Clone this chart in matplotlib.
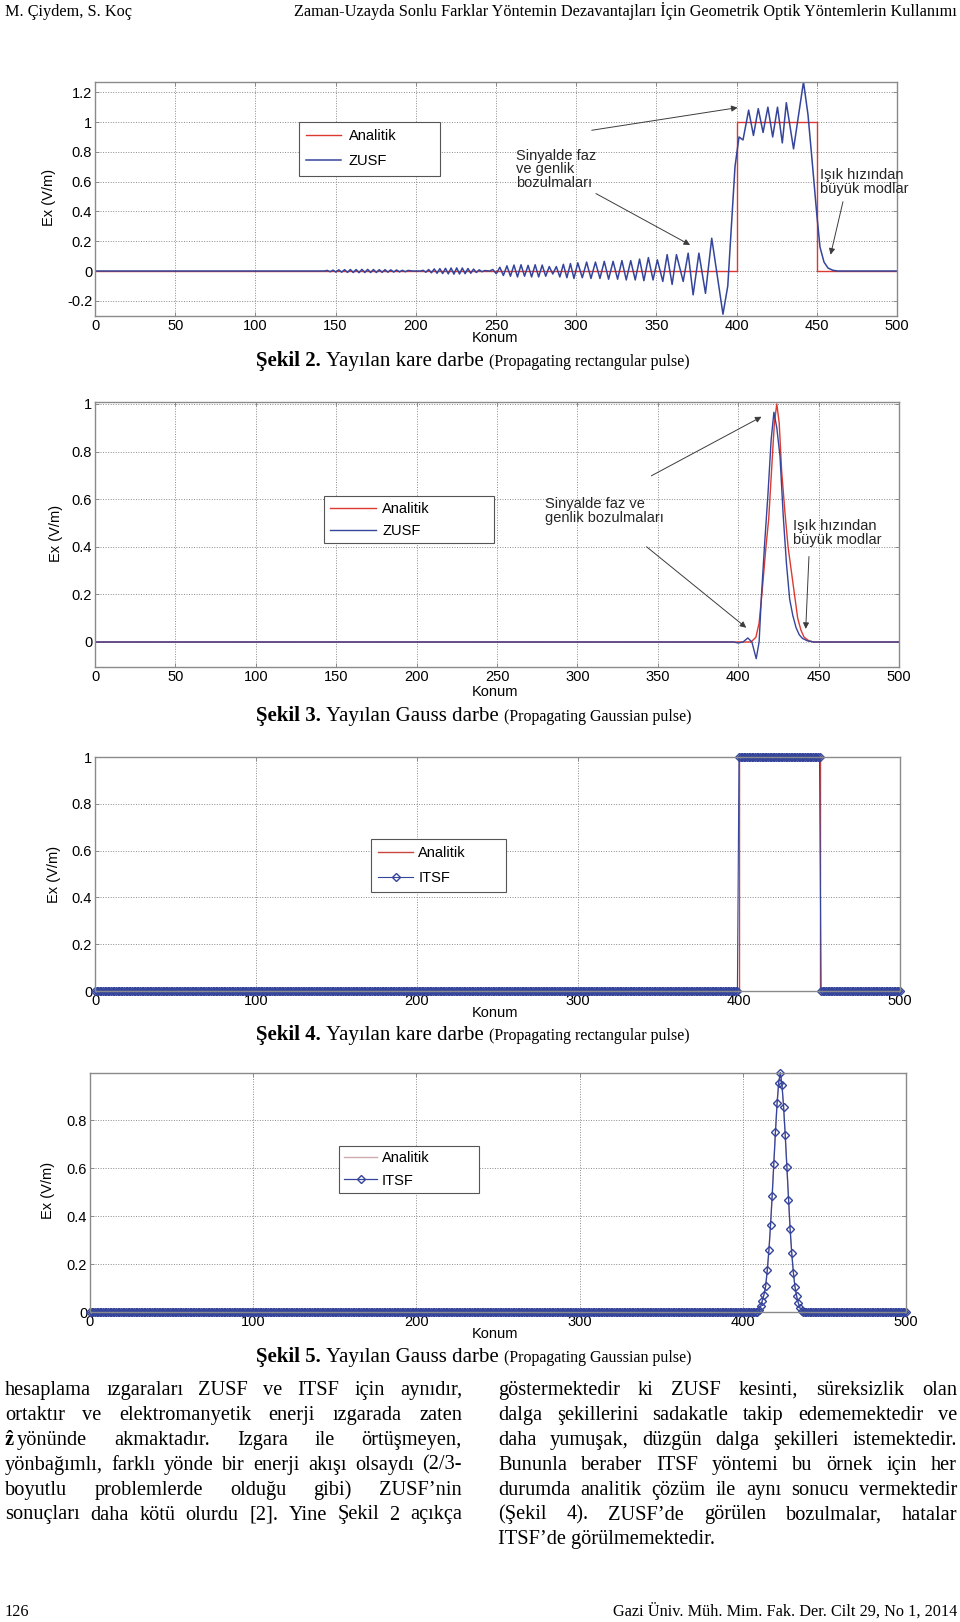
import numpy as np
import matplotlib
matplotlib.use('Agg')
import matplotlib.pyplot as plt
from matplotlib.ticker import FuncFormatter

# page size in pixels
W, H = 960, 1622
SANS = ['Liberation Sans', 'DejaVu Sans']
SERIF = ['Liberation Serif', 'DejaVu Serif']
plt.rcParams['font.family'] = SANS

BLUE = '#34459b'
RED = '#dc3a30'

# ---------------------------------------------------------------
# Data
# ---------------------------------------------------------------

rect_x = [0, 400, 400, 450, 450, 500]
rect_y = [0, 0, 1, 1, 0, 0]

zusf_rect_x = [
    0, 143.0,
    144.8, 146.6, 148.4, 150.2, 152.0, 153.8, 155.6, 157.4, 159.2, 161.0,
    162.8, 164.6, 166.4, 168.2, 170.0, 171.8, 173.6, 175.4, 177.2, 179.0,
    180.8, 182.6, 184.4, 186.2, 188.0, 189.8, 191.6, 193.4, 195.2, 198.0, 203.0,
    204.5, 206.25, 208.0, 209.75, 211.5, 213.25, 215.0, 216.75, 218.5, 220.25,
    222.0, 223.75, 225.5, 227.25, 229.0, 230.75, 232.5, 234.25, 236.0, 237.75,
    239.5, 241.25, 243.0, 246.0,
    248.0, 250.2, 252.4, 254.6, 256.8, 259.0, 261.2, 263.4, 265.6, 267.8,
    270.0, 272.2, 274.4, 276.6, 278.8, 281.0, 283.2, 285.4, 287.6, 289.8,
    292.0, 294.2, 296.4, 298.6,
    301.0, 303.8, 306.5, 309.2, 312.0, 314.8, 317.5, 320.2, 323.0, 325.8,
    328.5, 331.2, 334.0, 336.8, 339.5, 342.2, 345.0, 347.9, 350.6,
    354.0, 356.7, 359.8, 362.5, 366.7, 369.8, 372.9, 376.5, 380.6, 384.5, 391.5,
    394.5, 397.0, 399.0, 401.5, 404.0, 407.5, 410.5, 413.5, 416.5, 419.5,
    422.5, 425.5, 428.5, 431.0, 435.5, 441.7, 444.5, 447.0, 450.0, 452.0,
    454.5, 457.0, 460.0, 463.0, 500.0,
]
zusf_rect_y = [
    0, 0,
    0.004, -0.005, 0.006, -0.007, 0.008, -0.008, 0.009, -0.009, 0.010, -0.010,
    0.010, -0.011, 0.011, -0.010, 0.011, -0.010, 0.010, -0.010, 0.009, -0.009,
    0.009, -0.008, 0.008, -0.007, 0.007, -0.006, 0.005, -0.005, 0.004, 0.0, 0.0,
    0.005, -0.008, 0.010, -0.012, 0.014, -0.015, 0.016, -0.017, 0.018, -0.019,
    0.020, -0.021, 0.021, -0.020, 0.020, -0.018, 0.017, -0.015, 0.013, -0.010,
    0.008, -0.005, 0.003, 0.0,
    0.010, -0.018, 0.025, -0.030, 0.035, -0.035, 0.040, -0.040, 0.042, -0.035,
    0.038, -0.040, 0.042, -0.040, 0.040, -0.035, 0.030, -0.020, 0.030, -0.040,
    0.045, -0.045, 0.050, -0.050,
    0.055, -0.045, 0.060, -0.050, 0.060, -0.050, 0.065, -0.055, 0.065, -0.055,
    0.070, -0.060, 0.070, -0.060, 0.080, -0.065, 0.090, -0.060, 0.075,
    -0.070, 0.110, -0.090, 0.110, -0.070, 0.120, -0.160, 0.120, -0.150, 0.220, -0.290,
    -0.100, 0.350, 0.700, 0.900, 0.880, 1.080, 0.910, 1.090, 0.930, 1.100,
    0.900, 1.100, 0.860, 1.130, 0.820, 1.270, 1.050, 0.750, 0.380, 0.160,
    0.060, 0.020, 0.005, 0.0, 0.0,
]

# Sekil 3: analytic Gaussian pulse and ZUSF result
gauss_x = [0, 408, 411, 413, 415, 417, 419, 421, 422.5, 424, 425.5, 427, 429,
           431, 433, 435, 437, 439, 441, 444, 447, 500]
gauss_y = [0, 0, 0.02, 0.08, 0.22, 0.38, 0.52, 0.75, 0.92, 1.00, 0.92, 0.72,
           0.55, 0.40, 0.30, 0.20, 0.10, 0.05, 0.02, 0.005, 0, 0]

zusf_gauss_x = [0, 397, 400, 403, 406, 408.5, 411.2, 413, 414.5, 416.5, 418.5,
                420.5, 422.2, 424, 426, 428, 430, 432, 434, 436, 438, 440, 443,
                447, 500]
zusf_gauss_y = [0, 0, -0.004, 0.0, 0.017, 0.0, -0.07, 0.0, 0.20, 0.42, 0.62,
                0.85, 0.965, 0.90, 0.78, 0.53, 0.33, 0.18, 0.11, 0.06, 0.03,
                0.015, 0.005, 0, 0]

# Sekil 4: ITSF rectangular pulse, sampled every cell (levels per segment)
itsf_rect_start = [0, 400, 451]
itsf_rect_end = [399, 450, 500]
itsf_rect_level = [0.0, 1.0, 0.0]

# Sekil 5: ITSF Gaussian pulse, samples on the peak and flat zero parts
itsf_gauss_peak_x = [410, 411, 412, 413, 414, 415, 416, 417, 418, 419, 420, 421,
                     422, 423, 424, 425, 426, 427, 428, 429, 430, 431, 432, 433,
                     434, 435, 436]
itsf_gauss_peak_y = [0.010, 0.024, 0.048, 0.073, 0.108, 0.174, 0.258, 0.363,
                     0.486, 0.619, 0.752, 0.871, 0.958, 1.000, 0.948, 0.857,
                     0.738, 0.605, 0.468, 0.346, 0.245, 0.164, 0.104, 0.066,
                     0.038, 0.017, 0.006]
itsf_gauss_zero_start = [0, 437]
itsf_gauss_zero_end = [409, 500]


def expand_segments(starts, ends, levels):
    xs = [np.arange(s, e + 1) for s, e in zip(starts, ends)]
    ys = [np.full(len(x), lv) for x, lv in zip(xs, levels)]
    return np.concatenate(xs), np.concatenate(ys)


itsf_rect_xs, itsf_rect_ys = expand_segments(itsf_rect_start, itsf_rect_end, itsf_rect_level)

zx0, zy0 = expand_segments(itsf_gauss_zero_start[:1], itsf_gauss_zero_end[:1], [0.0])
zx1, zy1 = expand_segments(itsf_gauss_zero_start[1:], itsf_gauss_zero_end[1:], [0.0])
itsf_gauss_xs = np.concatenate([zx0, itsf_gauss_peak_x, zx1])
itsf_gauss_ys = np.concatenate([zy0, itsf_gauss_peak_y, zy1])

# ---------------------------------------------------------------
# Figure / helpers
# ---------------------------------------------------------------
fig = plt.figure(figsize=(W / 100, H / 100), dpi=100)
renderer = fig.canvas.get_renderer()


def fx(px):
    return px / W


def fy(py):
    return 1 - py / H


fmt = FuncFormatter(lambda v, p: f'{v:g}')


def make_axes(left, top, right, bottom, xlim, ylim, xticks, yticks):
    ax = fig.add_axes([fx(left), fy(bottom), (right - left) / W, (bottom - top) / H])
    ax.set_xlim(xlim)
    ax.set_ylim(ylim)
    ax.set_xticks(xticks)
    ax.set_yticks(yticks)
    ax.xaxis.set_major_formatter(fmt)
    ax.yaxis.set_major_formatter(fmt)
    ax.set_axisbelow(True)
    ax.grid(True, linestyle=(0, (1, 1.6)), color='#8a8a8a', lw=0.7)
    ax.tick_params(direction='in', length=3, width=0.6, color='#808080',
                   top=True, right=True, labelsize=10.5, pad=2)
    for s in ax.spines.values():
        s.set_color('#8a8a8a')
        s.set_linewidth(1.0)
    return ax


def add_legend(ax, x0, top, w, spacing, bpad, hlen, tpad):
    leg = ax.legend(loc='upper left', bbox_to_anchor=(x0, top, w, 0), mode='expand',
                    borderaxespad=0, fontsize=10.5, labelspacing=spacing,
                    borderpad=bpad, handlelength=hlen, handletextpad=tpad,
                    fancybox=False, framealpha=1, edgecolor='#555555')
    leg.get_frame().set_linewidth(0.8)
    return leg


def arrow(ax, start, end):
    ax.annotate('', xy=end, xytext=start,
                arrowprops=dict(arrowstyle='-|>', color='#3c3c3c', lw=0.7,
                                mutation_scale=9, shrinkA=0, shrinkB=0))


def axis_labels(ylab_x, ylab_y, konum_y):
    fig.text(fx(ylab_x), fy(ylab_y), 'Ex (V/m)', rotation=90, ha='center',
             va='center', fontsize=10.5)
    fig.text(fx(495), fy(konum_y), 'Konum', ha='center', va='center', fontsize=10.5)


def run(x, y, s, fs, weight='normal'):
    t = fig.text(fx(x), fy(y), s, fontsize=fs, fontweight=weight, family=SERIF,
                 va='baseline', ha='left')
    return t.get_window_extent(renderer).width


def caption(y, num, title, eng):
    x = 256
    x += run(x, y, f'Şekil {num}.', 15, 'bold') + 5
    x += run(x, y, title, 15) + 5
    run(x, y, f'({eng})', 11.5)


def justify(words, x0, x1, y, fs=14.7):
    texts = [fig.text(fx(x0), fy(y), w, fontsize=fs, family=SERIF, va='baseline')
             for w in words]
    widths = [t.get_window_extent(renderer).width for t in texts]
    gap = (x1 - x0 - sum(widths)) / (len(words) - 1)
    x = x0
    for t, w in zip(texts, widths):
        t.set_x(fx(x))
        x += w + gap


# ---------------------------------------------------------------
# Sekil 2
# ---------------------------------------------------------------
ax1 = make_axes(95, 82, 897, 316, (0, 500), (-0.302, 1.269),
                np.arange(0, 501, 50), [-0.2, 0, 0.2, 0.4, 0.6, 0.8, 1, 1.2])
ax1.plot(rect_x, rect_y, color=RED, lw=1.0, label='Analitik')
ax1.plot(zusf_rect_x, zusf_rect_y, color=BLUE, lw=1.1, label='ZUSF',
         solid_joinstyle='round')
add_legend(ax1, 0.254, 0.829, 0.176, 0.75, 0.5, 2.4, 0.52)
ax1.text(262.5, 0.82, 'Sinyalde faz\nve genlik\nbozulmaları', fontsize=10.5,
         va='top', linespacing=0.95, color='#262626')
ax1.text(452, 0.69, 'Işık hızından\nbüyük modlar', fontsize=10.5, va='top',
         linespacing=0.95, color='#262626')
arrow(ax1, (312.3, 0.52), (371, 0.175))
arrow(ax1, (309.7, 0.945), (400.6, 1.097))
arrow(ax1, (466.3, 0.465), (458.6, 0.11))
axis_labels(49, 197, 338)
caption(366, 2, 'Yayılan kare darbe', 'Propagating rectangular pulse')

# ---------------------------------------------------------------
# Sekil 3
# ---------------------------------------------------------------
ax2 = make_axes(95, 402, 899, 667, (0, 500), (-0.105, 1.008),
                np.arange(0, 501, 50), [0, 0.2, 0.4, 0.6, 0.8, 1])
ax2.plot(gauss_x, gauss_y, color=RED, lw=1.0, label='Analitik')
ax2.plot(zusf_gauss_x, zusf_gauss_y, color=BLUE, lw=1.0, label='ZUSF')
add_legend(ax2, 0.285, 0.645, 0.211, 0.55, 0.38, 3.2, 0.41)
ax2.text(280, 0.61, 'Sinyalde faz ve\ngenlik bozulmaları', fontsize=10.5,
         va='top', linespacing=1.0, color='#262626')
ax2.text(434, 0.515, 'Işık hızından\nbüyük modlar', fontsize=10.5, va='top',
         linespacing=1.0, color='#262626')
arrow(ax2, (343, 0.40), (405, 0.06))
arrow(ax2, (346, 0.698), (414.5, 0.946))
arrow(ax2, (444, 0.359), (442, 0.055))
axis_labels(56, 533, 692)
caption(721, 3, 'Yayılan Gauss darbe', 'Propagating Gaussian pulse')

# ---------------------------------------------------------------
# Sekil 4
# ---------------------------------------------------------------
ax3 = make_axes(95, 757, 900, 991, (0, 500), (0, 1),
                np.arange(0, 501, 100), [0, 0.2, 0.4, 0.6, 0.8, 1])
ax3.plot(rect_x, rect_y, color='#c8463e', lw=1.0, label='Analitik', clip_on=False)
ax3.plot(itsf_rect_xs, itsf_rect_ys, color=BLUE, lw=0.8, marker='D', ms=3.6,
         mfc='none', mec=BLUE, mew=1.0, label='ITSF', clip_on=False)
add_legend(ax3, 0.343, 0.650, 0.168, 0.72, 0.5, 2.4, 0.34)
axis_labels(54, 874, 1013)
caption(1040, 4, 'Yayılan kare darbe', 'Propagating rectangular pulse')

# ---------------------------------------------------------------
# Sekil 5
# ---------------------------------------------------------------
ax4 = make_axes(90, 1073, 906, 1312, (0, 500), (0, 0.998),
                np.arange(0, 501, 100), [0, 0.2, 0.4, 0.6, 0.8])
ax4.plot(itsf_gauss_xs, itsf_gauss_ys, color='#cfaaae', lw=1.0, label='Analitik',
         clip_on=False)
ax4.plot(itsf_gauss_xs, itsf_gauss_ys, color=BLUE, lw=0.9, marker='D', ms=3.6,
         mfc='none', mec=BLUE, mew=1.0, label='ITSF', clip_on=False)
add_legend(ax4, 0.305, 0.695, 0.172, 0.58, 0.36, 2.26, 0.34)
axis_labels(48, 1190, 1334)
caption(1362, 5, 'Yayılan Gauss darbe', 'Propagating Gaussian pulse')

# ---------------------------------------------------------------
# Page text: header, body, footer
# ---------------------------------------------------------------
fig.text(fx(5), fy(16), 'M. Çiydem, S. Koç', family=SERIF, fontsize=11.7, va='baseline')
fig.text(fx(957), fy(16),
         'Zaman-Uzayda Sonlu Farklar Yöntemin Dezavantajları İçin Geometrik Optik '
         'Yöntemlerin Kullanımı', family=SERIF, fontsize=11.7, va='baseline', ha='right')

left_lines = [
    'hesaplama ızgaraları ZUSF ve ITSF için aynıdır,',
    'ortaktır ve elektromanyetik enerji ızgarada zaten',
    'yönünde akmaktadır. Izgara ile örtüşmeyen,',
    'yönbağımlı, farklı yönde bir enerji akışı olsaydı (2/3-',
    'boyutlu problemlerde olduğu gibi) ZUSF’nin',
    'sonuçları daha kötü olurdu [2]. Yine Şekil 2 açıkça',
]
right_lines = [
    'göstermektedir ki ZUSF kesinti, süreksizlik olan',
    'dalga şekillerini sadakatle takip edememektedir ve',
    'daha yumuşak, düzgün dalga şekilleri istemektedir.',
    'Bununla beraber ITSF yöntemi bu örnek için her',
    'durumda analitik çözüm ile aynı sonucu vermektedir',
    '(Şekil 4). ZUSF’de görülen bozulmalar, hatalar',
]
last_right = 'ITSF’de görülmemektedir.'

for i, line in enumerate(left_lines):
    y = 1395 + i * 24.9
    x0 = 5
    if i == 2:
        x0 += run(x0, y, 'ẑ', 14.7, 'bold') + 3
    justify(line.split(' '), x0, 462, y)
for i, line in enumerate(right_lines):
    justify(line.split(' '), 498, 957, 1395 + i * 24.9)
run(498, 1395 + 6 * 24.9, last_right, 14.7)

fig.text(fx(5), fy(1616), '126', family=SERIF, fontsize=11.7, va='baseline')
fig.text(fx(957), fy(1616), 'Gazi Üniv. Müh. Mim. Fak. Der. Cilt 29, No 1, 2014',
         family=SERIF, fontsize=11.7, va='baseline', ha='right')

fig.savefig('out.png', dpi=100)
